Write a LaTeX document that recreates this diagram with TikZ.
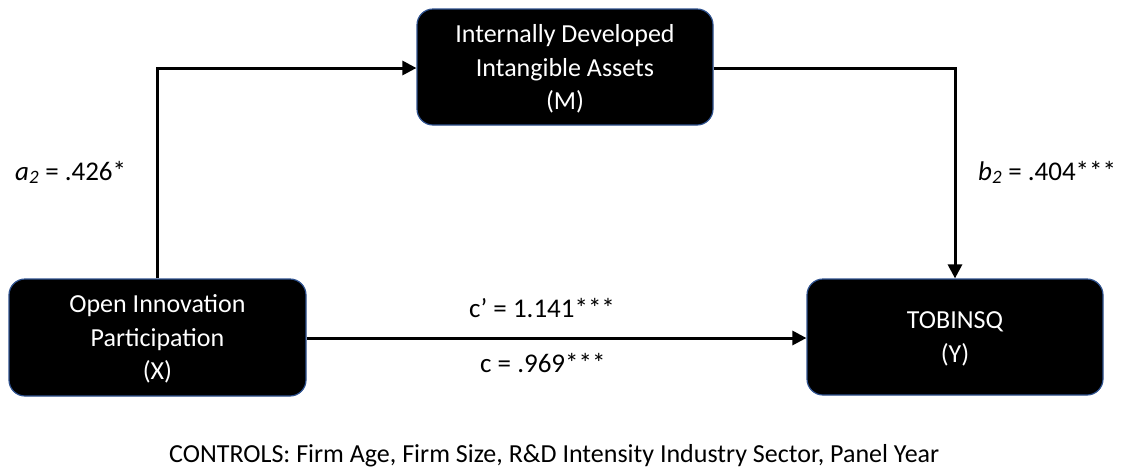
\documentclass[tikz,border=0pt]{standalone}
\usepackage{fontspec}
\setmainfont{Carlito}
\usetikzlibrary{arrows.meta}
\definecolor{boxedge}{HTML}{2F528F}
\tikzset{
  varbox/.style={draw=boxedge, line width=1.2pt, fill=black, text=white,
    rounded corners=16pt, align=center, inner sep=0pt, text depth=0pt,
    font=\fontsize{26}{33.5}\selectfont},
  path/.style={line width=3pt, -{Triangle[length=14pt,width=14pt]}},
  coef/.style={font=\fontsize{27}{30}\selectfont, inner sep=0pt, anchor=base west}
}
\begin{document}
\begin{tikzpicture}[x=1pt,y=-1pt]
\useasboundingbox (0,0) rectangle (1136,467);
% variable boxes
\node[varbox, minimum width=296pt, minimum height=116pt] (M) at (565,67)
  {Internally Developed\\Intangible Assets\\(M)};
\node[varbox, minimum width=297pt, minimum height=117pt] (X) at (157.5,337.5)
  {Open Innovation\\Participation\\(X)};
\node[varbox, minimum width=296pt, minimum height=116pt] (Y) at (955,337)
  {TOBINSQ\\(Y)};
% connectors
\coordinate (xa) at (157,68);
\coordinate (yb) at (955,68);
\draw[path] (X.north -| xa) -- (xa) -- (M.west |- xa);
\draw[path] (M.east |- yb) -- (yb) -- (Y.north -| yb);
\draw[path] (X.east |- 0,338) -- (Y.west |- 0,338);
% path coefficients
\node[coef] (la) at (15,180) {\textit{a\textsubscript{2}} = .426*};
\node[coef] (lb) at (978,180) {\textit{b\textsubscript{2}} = .404***};
\node[coef] (lc1) at (469,317) {c’ = 1.141***};
\node[coef] (lc) at (480,372) {c = .969***};
% controls note
\node[font=\fontsize{26}{30}\selectfont, inner sep=0pt, anchor=base west] (ctl) at (169,462)
  {CONTROLS: Firm Age, Firm Size, R\&D Intensity Industry Sector, Panel Year};
\end{tikzpicture}
\end{document}
